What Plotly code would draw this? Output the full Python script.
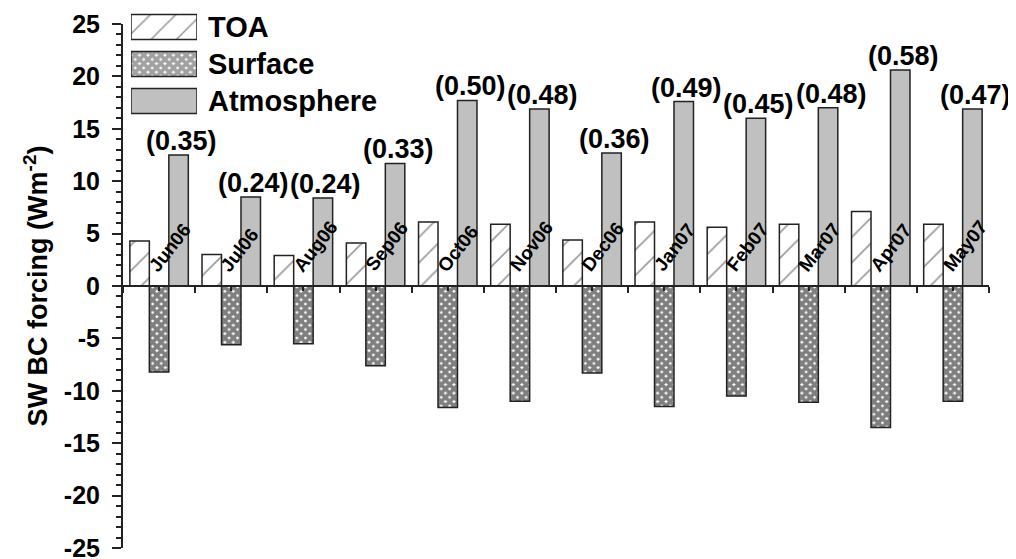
import math
import plotly.graph_objects as go

# ---------------- data ----------------
months = ["Jun06", "Jul06", "Aug06", "Sep06", "Oct06", "Nov06",
          "Dec06", "Jan07", "Feb07", "Mar07", "Apr07", "May07"]
toa = [4.3, 3.0, 2.9, 4.1, 6.1, 5.9, 4.4, 6.1, 5.6, 5.9, 7.1, 5.9]
surface = [-8.2, -5.6, -5.5, -7.6, -11.6, -11.0, -8.3, -11.5, -10.5, -11.1, -13.5, -11.0]
atmosphere = [12.5, 8.5, 8.4, 11.7, 17.7, 16.9, 12.7, 17.6, 16.0, 17.0, 20.6, 16.9]
ratio_labels = ["(0.35)", "(0.24)", "(0.24)", "(0.33)", "(0.50)", "(0.48)",
                "(0.36)", "(0.49)", "(0.45)", "(0.48)", "(0.58)", "(0.47)"]
series_names = ["TOA", "Surface", "Atmosphere"]
y_ticks = [25, 20, 15, 10, 5, 0, -5, -10, -15, -20, -25]
y_title = "SW BC forcing (Wm<sup>-2</sup>)"

# ---------------- layout constants (pixels in the 1016x559 window) ----------------
OFF = 8                       # page body margin of the browser
W, H = 1016 - OFF, 559 - OFF  # figure size
ML, MR, MT, MB = 123 - OFF, 27, 0, 11 - OFF
PW, PH = W - ML - MR, H - MT - MB
Y_TOP_PX = 24          # window row of y = 25
Y_BOT_PX = 548         # window row of y = -25
FONT = "Liberation Sans, Arial, sans-serif"
EDGE = "#222222"
GRAY = "#c0c0c0"
BARGAP = 0.19

def py(px):  # window row -> paper y
    return (H - MB - (px - OFF)) / PH

def pxx(px):  # window column -> paper x
    return (px - OFF - ML) / PW

idx = list(range(len(months)))
ymin, ymax = min(y_ticks), max(y_ticks)
zero_paper = py(Y_BOT_PX) + (0 - ymin) / (ymax - ymin) * (py(Y_TOP_PX) - py(Y_BOT_PX))

fig = go.Figure()

line = dict(color=EDGE, width=1.5)
TOA_FG = "#333333"
toa_pat = dict(shape="/", size=18, solidity=0.09, fgcolor=TOA_FG, bgcolor="white")
sur_pat = dict(shape="x", size=6, solidity=0.85, fgcolor="#000000", bgcolor="white")

fig.add_trace(go.Bar(x=idx, y=toa, name=series_names[0],
                     marker=dict(color="white", line=line, pattern=toa_pat)))
fig.add_trace(go.Bar(x=idx, y=surface, name=series_names[1],
                     marker=dict(color="white", line=line, pattern=sur_pat)))
fig.add_trace(go.Bar(x=idx, y=atmosphere, name=series_names[2],
                     marker=dict(color=GRAY, line=line)))

# legend swatches drawn as bars on a small hidden axis pair
fig.add_trace(go.Bar(
    x=[1] * len(series_names), y=series_names, orientation="h",
    xaxis="x2", yaxis="y2", width=0.68, base=0,
    marker=dict(color=["white", "white", GRAY], line=line,
                pattern=dict(shape=["/", "x", ""], size=[18, 6, 8],
                             solidity=[0.09, 0.85, 0.3],
                             fgcolor=[TOA_FG, "#000000", GRAY],
                             bgcolor=["white", "white", GRAY])),
    hoverinfo="skip",
))

annotations = []
# legend text
leg_top, leg_row = 8.5, 37
for k, name in enumerate(series_names):
    annotations.append(dict(
        xref="paper", yref="paper", x=pxx(206), y=py(leg_top + leg_row * (k + 0.5)),
        xanchor="left", yanchor="middle", text=name, showarrow=False,
        font=dict(family=FONT, size=29, color="black", weight="bold")))

# ratio labels above atmosphere bars
atm_off = (1 - BARGAP) / 3
for i, lab in enumerate(ratio_labels):
    annotations.append(dict(
        x=idx[i] + atm_off, y=atmosphere[i], xanchor="center", yanchor="bottom",
        text=lab, showarrow=False, xshift=3, yshift=-3,
        font=dict(family=FONT, size=27, color="black", weight="bold")))

# rotated month labels sitting on the zero line
cw = {"J": .556, "u": .611, "n": .611, "0": .556, "6": .556, "7": .556, "l": .278,
      "A": .722, "g": .611, "S": .667, "e": .556, "p": .611, "O": .778, "c": .556,
      "t": .333, "N": .722, "o": .611, "v": .556, "D": .722, "a": .556, "F": .611,
      "b": .611, "M": .833, "r": .389, "y": .556}
MFS = 19
ANG = 52
theta = math.radians(ANG)
for i, m in enumerate(months):
    L = sum(cw.get(ch, .6) for ch in m) * MFS
    bx, by = -1, 13  # baseline start relative to category centre / zero line (px, up)
    cx = bx + (L / 2) * math.cos(theta) - 0.35 * MFS * math.sin(theta)
    cy = by + (L / 2) * math.sin(theta) + 0.35 * MFS * math.cos(theta)
    annotations.append(dict(
        x=idx[i], y=0, xanchor="center", yanchor="middle", text=m, showarrow=False,
        textangle=-ANG, xshift=cx, yshift=cy,
        font=dict(family=FONT, size=MFS, color="black", weight="bold")))

boundaries = [i - 0.5 for i in idx] + [idx[-1] + 0.5]

fig.update_layout(
    width=W, height=H,
    margin=dict(l=ML, r=MR, t=MT, b=MB, autoexpand=False),
    paper_bgcolor="white", plot_bgcolor="white",
    barmode="group", bargap=BARGAP, bargroupgap=0,
    showlegend=False,
    annotations=annotations,
    xaxis=dict(
        range=[boundaries[0], boundaries[-1]], anchor="free", position=zero_paper,
        showgrid=False, zeroline=False, showline=True, linecolor=EDGE, linewidth=2,
        tickmode="array", tickvals=boundaries, ticks="outside", ticklen=6,
        tickwidth=1.5, tickcolor=EDGE, showticklabels=False,
        minor=dict(tickvals=idx, ticks="outside", ticklen=4, tickwidth=1.5, tickcolor=EDGE),
    ),
    yaxis=dict(
        range=[ymin, ymax], domain=[py(Y_BOT_PX), py(Y_TOP_PX)],
        showgrid=False, zeroline=False, showline=True, linecolor=EDGE, linewidth=2,
        tickmode="array", tickvals=y_ticks, ticktext=[str(v) for v in y_ticks],
        ticks="outside", ticklen=9, tickwidth=2, tickcolor=EDGE,
        ticklabelstandoff=7, ticklabeloverflow="allow",
        minor=dict(dtick=1, ticks="outside", ticklen=5, tickwidth=1.5, tickcolor=EDGE),
        tickfont=dict(family=FONT, size=25, color="black", weight="bold"),
        title=dict(text=y_title, standoff=8,
                   font=dict(family=FONT, size=27, color="black", weight="bold")),
    ),
    xaxis2=dict(domain=[pxx(131), pxx(197)], range=[0, 1], visible=False,
                anchor="y2", fixedrange=True),
    yaxis2=dict(domain=[py(leg_top + 3 * leg_row), py(leg_top)], range=[2.5, -0.5],
                type="category", categoryarray=series_names, visible=False,
                anchor="x2", fixedrange=True),
)

fig.write_html("out.html")
